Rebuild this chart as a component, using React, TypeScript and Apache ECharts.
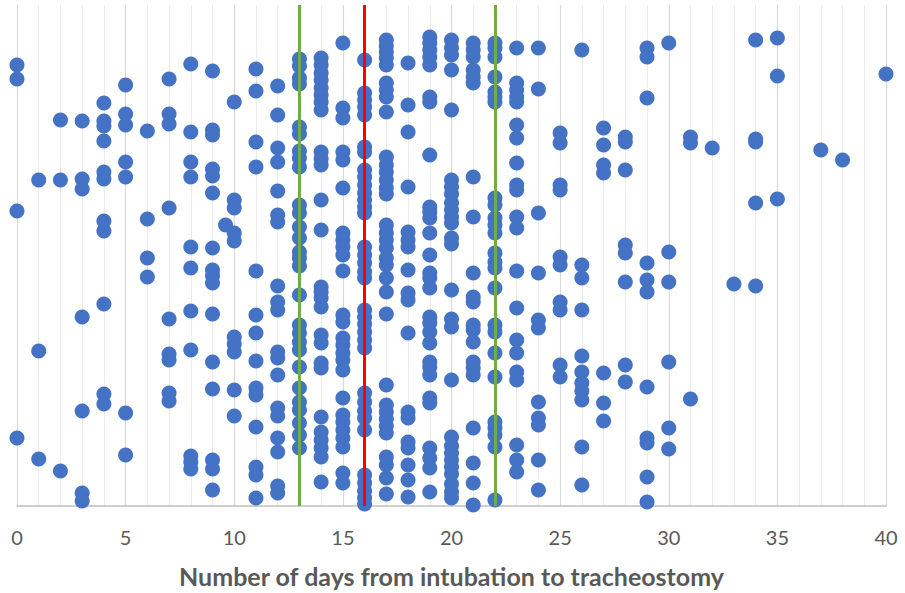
import React, { useEffect, useRef } from "react";
import * as echarts from "echarts";

// Days from intubation to tracheostomy (x) and vertical spread position of each patient (y, arbitrary units)
const days = [0, 1, 2, 3, 4, 5, 6, 7, 8, 9, 9.6, 10, 11, 12, 13, 14, 15, 16, 17, 18, 19, 20, 21, 22, 23, 24, 25, 26, 27, 28, 29, 30, 31, 32, 33, 34, 35, 37, 38, 40];

const spread: number[][] = [
  [441, 427, 295, 68],
  [326, 155, 47],
  [386, 326, 35],
  [385, 327, 317, 189, 95, 13, 5],
  [403, 385, 380, 365, 334, 327, 285, 275, 202, 112, 102],
  [421, 392, 381, 344, 329, 93, 51],
  [375, 287, 248, 229],
  [427, 392, 382, 298, 187, 152, 146, 113, 105],
  [442, 374, 344, 329, 259, 238, 195, 156, 50, 44, 37],
  [435, 376, 371, 337, 330, 313, 258, 236, 230, 223, 192, 144, 117, 46, 37, 16],
  [281],
  [404, 306, 298, 273, 265, 169, 162, 154, 116, 90],
  [437, 415, 364, 339, 235, 191, 173, 145, 118, 111, 79, 39, 31, 8],
  [420, 391, 358, 344, 315, 291, 284, 220, 204, 196, 154, 148, 131, 98, 90, 68, 54, 20, 13],
  [447, 440, 428, 422, 379, 372, 355, 348, 339, 301, 293, 279, 268, 254, 248, 240, 211, 181, 173, 164, 156, 139, 118, 104, 96, 83, 71, 58],
  [448, 441, 433, 426, 418, 411, 404, 396, 354, 347, 341, 306, 276, 219, 214, 208, 199, 171, 163, 143, 138, 89, 74, 66, 58, 49, 24],
  [463, 398, 388, 354, 346, 318, 273, 266, 259, 251, 235, 191, 184, 168, 161, 153, 146, 136, 108, 91, 84, 76, 68, 59, 33, 23],
  [446, 413, 406, 399, 391, 359, 354, 336, 329, 321, 313, 306, 299, 293, 259, 251, 243, 234, 228, 196, 189, 182, 174, 166, 158, 113, 104, 95, 88, 76, 31, 23, 15, 8, 2],
  [466, 460, 454, 448, 441, 423, 416, 409, 394, 349, 341, 334, 326, 318, 312, 281, 273, 266, 258, 248, 241, 228, 214, 192, 121, 101, 94, 87, 80, 73, 49, 41, 28, 12],
  [443, 401, 374, 319, 274, 266, 259, 236, 213, 206, 173, 94, 88, 64, 58, 41, 26, 9],
  [469, 463, 456, 449, 441, 409, 404, 351, 299, 294, 288, 273, 251, 233, 228, 218, 189, 183, 174, 163, 144, 139, 131, 108, 103, 58, 48, 38, 14],
  [466, 458, 451, 436, 396, 326, 319, 312, 303, 296, 289, 283, 268, 262, 216, 187, 179, 126, 69, 60, 53, 46, 39, 32, 22, 14, 8],
  [463, 456, 449, 436, 429, 423, 329, 289, 233, 209, 204, 181, 176, 164, 144, 138, 131, 78, 43, 23, 1],
  [463, 458, 449, 429, 414, 409, 404, 308, 301, 288, 281, 273, 253, 244, 238, 218, 181, 174, 153, 129, 84, 78, 71, 59, 6],
  [458, 423, 416, 409, 404, 381, 368, 343, 321, 316, 289, 278, 235, 198, 166, 153, 134, 126, 61, 46, 34],
  [458, 417, 293, 233, 186, 178, 104, 88, 81, 46, 16],
  [373, 363, 321, 316, 249, 241, 204, 196, 141, 129],
  [456, 241, 228, 196, 150, 134, 123, 115, 106, 59, 21],
  [378, 361, 341, 333, 133, 103, 85],
  [369, 364, 336, 261, 253, 224, 141, 124],
  [458, 449, 408, 243, 226, 214, 119, 68, 63, 29, 4],
  [463, 254, 224, 144, 78, 57],
  [369, 363, 107],
  [358],
  [222],
  [466, 367, 364, 303, 220],
  [468, 430, 307],
  [356],
  [346],
  [432],
];

const xTicks = [0, 5, 10, 15, 20, 25, 30, 35, 40];
const greenLines = [13, 22];
const redLines = [16];
const xTitle = "Number of days from intubation to tracheostomy";

export default function App() {
  const ref = useRef<HTMLDivElement>(null);
  useEffect(() => {
    document.body.style.margin = "0";
    if (!ref.current) return;
    const chart = echarts.init(ref.current, null, { renderer: "svg" });
    const data: number[][] = [];
    days.forEach((d, i) => spread[i].forEach((h) => data.push([d, h])));
    chart.setOption({
      animation: false,
      backgroundColor: "#ffffff",
      grid: { left: 17, right: 19, top: 5, bottom: 87, outerBoundsMode: "none", containLabel: false },
      xAxis: {
        type: "value",
        min: 0,
        max: 40,
        interval: 5,
        name: xTitle,
        nameLocation: "middle",
        nameGap: 57,
        nameTextStyle: {
          fontFamily: "Lato, sans-serif",
          fontWeight: "bold",
          fontSize: 25,
          color: "#595959",
        },
        axisLine: { show: true, lineStyle: { color: "#bfbfbf", width: 1.5 } },
        axisTick: { show: false },
        axisLabel: {
          margin: 21,
          fontFamily: "Lato, sans-serif",
          fontSize: 20,
          color: "#595959",
          formatter: (v: number) => (xTicks.includes(v) ? String(v) : ""),
        },
        splitLine: { show: true, lineStyle: { color: "#d9d9d9", width: 1.2 } },
        minorTick: { show: false, splitNumber: 5 },
        minorSplitLine: { show: true, lineStyle: { color: "#ececec", width: 1 } },
      },
      yAxis: {
        type: "value",
        min: 0,
        max: 501,
        show: false,
        splitLine: { show: false },
      },
      series: [
        {
          type: "scatter",
          data,
          symbol: "circle",
          symbolSize: 15,
          itemStyle: { color: "#4472C4", opacity: 1 },
          markLine: {
            silent: true,
            symbol: "none",
            label: { show: false },
            data: [
              ...greenLines.map((x) => ({ xAxis: x, lineStyle: { color: "#70AD47", width: 3, type: "solid" } })),
              ...redLines.map((x) => ({ xAxis: x, lineStyle: { color: "#FF0000", width: 3, type: "solid" } })),
            ],
          },
          z: 2,
        },
      ],
    });
    return () => chart.dispose();
  }, []);
  return <div ref={ref} style={{ width: 905, height: 593 }} />;
}
